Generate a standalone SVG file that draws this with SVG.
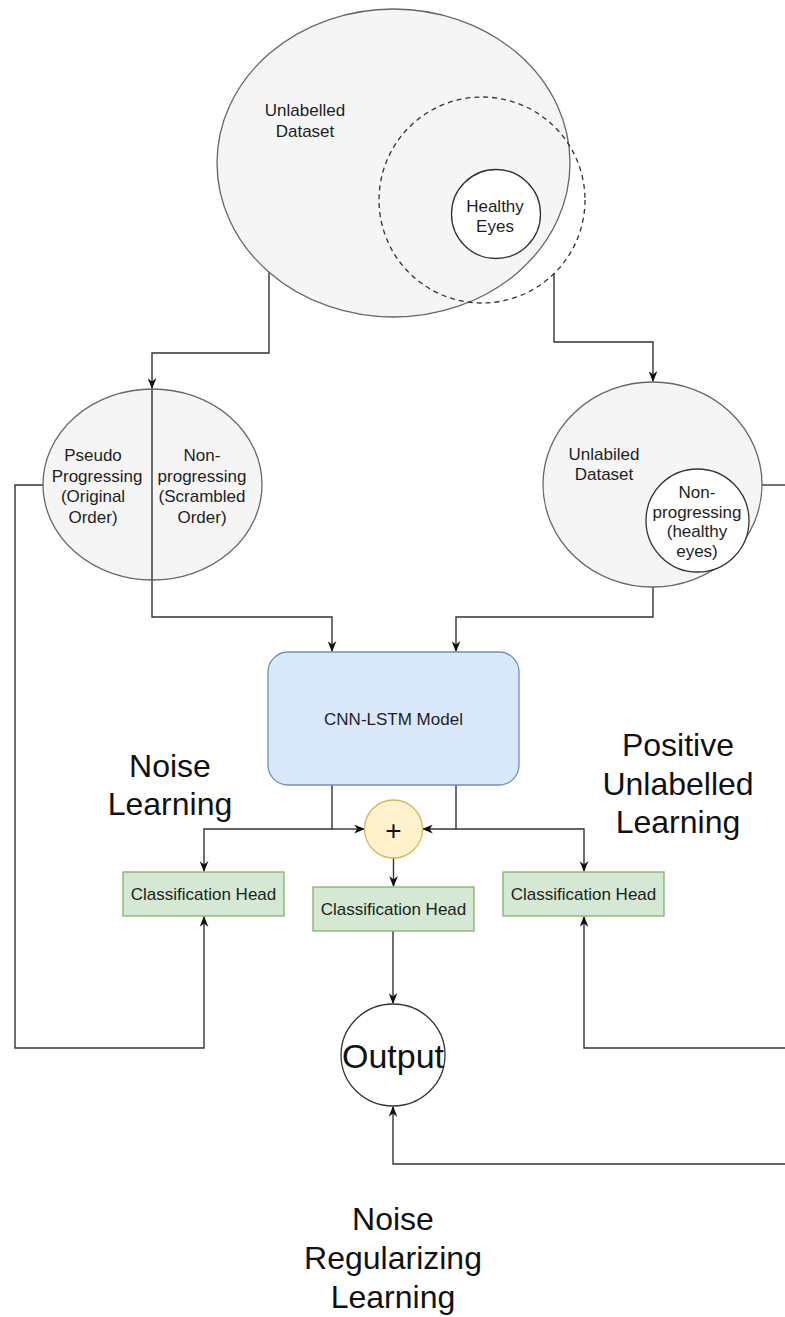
<svg xmlns="http://www.w3.org/2000/svg" width="785" height="1317" viewBox="0 0 785 1317">
  <style>
    .set { fill: #f5f5f5; stroke: #666666; stroke-width: 1.3; }
    .white { fill: #ffffff; stroke: #333333; stroke-width: 1.3; }
    .dashed { fill: none; stroke: #333333; stroke-width: 1.3; stroke-dasharray: 5 4; }
    .model { fill: #dae8fc; stroke: #6c8ebf; stroke-width: 1.3; }
    .head { fill: #d5e8d4; stroke: #82b366; stroke-width: 1.3; }
    .sum { fill: #fff2cc; stroke: #d6b656; stroke-width: 1.3; }
    .edge { fill: none; stroke: #333333; stroke-width: 1.4; }
    .lbl { font-family: "Liberation Sans", Arial, sans-serif; font-size: 17px; fill: #1e1e1e; text-anchor: middle; dominant-baseline: central; }
    .big { font-family: "Liberation Sans", Arial, sans-serif; font-size: 32px; fill: #111111; text-anchor: middle; dominant-baseline: central; }
  </style>
  <defs>
    <marker id="arrow" viewBox="0 0 10 8" refX="9" refY="4" markerWidth="11" markerHeight="9" markerUnits="userSpaceOnUse" orient="auto">
      <path d="M0,0 L10,4 L0,8 L3,4 z" fill="#111111"/>
    </marker>
  </defs>

  <!-- connectors -->
  <g id="connectors">
    <!-- dataset splits -->
    <path class="edge" d="M269,271 V353 H152 V388" marker-end="url(#arrow)"/>
    <path class="edge" d="M554,273 V342 H653 V381" marker-end="url(#arrow)"/>
    <!-- sets into the model -->
    <path class="edge" d="M152,580 V617 H332 V651" marker-end="url(#arrow)"/>
    <path class="edge" d="M653,587 V617 H456 V651" marker-end="url(#arrow)"/>
    <!-- model outputs -->
    <path class="edge" d="M332,785 V829 H204 V871" marker-end="url(#arrow)"/>
    <path class="edge" d="M332,829 H364" marker-end="url(#arrow)"/>
    <path class="edge" d="M456,785 V829 H584 V871" marker-end="url(#arrow)"/>
    <path class="edge" d="M456,829 H423" marker-end="url(#arrow)"/>
    <!-- fused features to the middle head and output -->
    <path class="edge" d="M393.5,858 V886" marker-end="url(#arrow)"/>
    <path class="edge" d="M393,931 V1003" marker-end="url(#arrow)"/>
    <!-- label feedback loops -->
    <path class="edge" d="M43,485 H15 V1048 H204 V917" marker-end="url(#arrow)"/>
    <path class="edge" d="M762,485 H790"/>
    <path class="edge" d="M790,1048 H584 V917" marker-end="url(#arrow)"/>
    <path class="edge" d="M790,1164 H393 V1107" marker-end="url(#arrow)"/>
  </g>

  <!-- unlabelled dataset with healthy subset -->
  <g id="node-unlabelled-dataset">
    <ellipse class="set" cx="393.5" cy="163" rx="176.5" ry="154"/>
    <text class="lbl" x="305" y="110">Unlabelled</text>
    <text class="lbl" x="305" y="131">Dataset</text>
  </g>
  <g id="node-healthy-region">
    <circle class="dashed" cx="482" cy="200" r="103"/>
  </g>
  <g id="node-healthy-eyes">
    <circle class="white" cx="496" cy="214" r="44.5"/>
    <text class="lbl" x="495" y="206">Healthy</text>
    <text class="lbl" x="495" y="226">Eyes</text>
  </g>

  <!-- pseudo progressing / non-progressing split -->
  <g id="node-pseudo-split">
    <ellipse class="set" cx="152.5" cy="484.5" rx="109.5" ry="95.5"/>
    <line class="edge" x1="152" y1="389" x2="152" y2="580"/>
    <text class="lbl" x="93" y="455">Pseudo</text>
    <text class="lbl" x="97" y="476">Progressing</text>
    <text class="lbl" x="93" y="496">(Original</text>
    <text class="lbl" x="93" y="517">Order)</text>
    <text class="lbl" x="202" y="455">Non-</text>
    <text class="lbl" x="202" y="476">progressing</text>
    <text class="lbl" x="202" y="496">(Scrambled</text>
    <text class="lbl" x="202" y="517">Order)</text>
  </g>

  <!-- unlabelled set with non-progressing subset -->
  <g id="node-unlabilled-dataset">
    <ellipse class="set" cx="652.5" cy="484.5" rx="109.5" ry="102.5"/>
    <text class="lbl" x="604" y="454">Unlabiled</text>
    <text class="lbl" x="604" y="474">Dataset</text>
  </g>
  <g id="node-non-progressing">
    <circle class="white" cx="697.5" cy="520.5" r="51.5"/>
    <text class="lbl" x="697" y="492">Non-</text>
    <text class="lbl" x="697" y="512">progressing</text>
    <text class="lbl" x="697" y="531">(healthy</text>
    <text class="lbl" x="697" y="551">eyes)</text>
  </g>

  <!-- shared backbone -->
  <g id="node-cnn-lstm">
    <rect class="model" x="268" y="652" width="251" height="133" rx="20" ry="20"/>
    <text class="lbl" x="393.5" y="719">CNN-LSTM Model</text>
  </g>

  <g id="node-sum">
    <circle class="sum" cx="393.5" cy="829" r="29"/>
    <text class="lbl" x="393.5" y="830" style="font-size:28px;fill:#111">+</text>
  </g>

  <!-- classification heads -->
  <g id="node-head-left">
    <rect class="head" x="123" y="872" width="161" height="44"/>
    <text class="lbl" x="203.5" y="894">Classification Head</text>
  </g>
  <g id="node-head-middle">
    <rect class="head" x="313" y="887" width="161" height="44"/>
    <text class="lbl" x="393.5" y="909">Classification Head</text>
  </g>
  <g id="node-head-right">
    <rect class="head" x="503" y="872" width="161" height="44"/>
    <text class="lbl" x="583.5" y="894">Classification Head</text>
  </g>

  <g id="node-output">
    <ellipse class="white" cx="393" cy="1055" rx="52" ry="51"/>
    <text class="big" x="393" y="1056" style="font-size:34px">Output</text>
  </g>

  <!-- free labels -->
  <g id="label-noise-learning">
    <text class="big" x="170" y="766">Noise</text>
    <text class="big" x="170" y="804">Learning</text>
  </g>
  <g id="label-pu-learning">
    <text class="big" x="678" y="745">Positive</text>
    <text class="big" x="678" y="784">Unlabelled</text>
    <text class="big" x="678" y="822">Learning</text>
  </g>
  <g id="label-noise-regularizing">
    <text class="big" x="393" y="1219">Noise</text>
    <text class="big" x="393" y="1258">Regularizing</text>
    <text class="big" x="393" y="1297">Learning</text>
  </g>
</svg>
